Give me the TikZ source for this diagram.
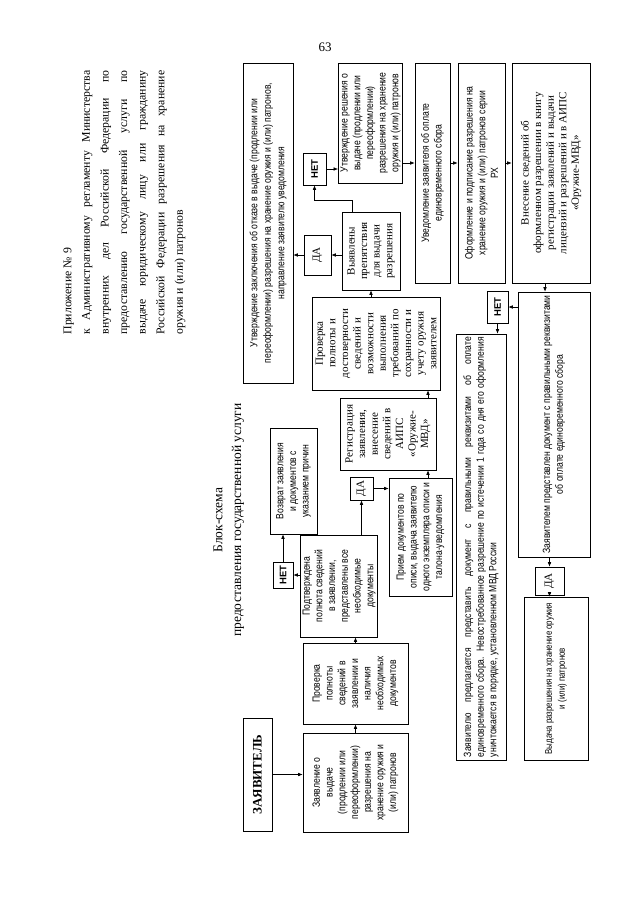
\documentclass[tikz,border=0pt]{standalone}
\usepackage{fontspec}
\setmainfont{Liberation Serif}
\newfontfamily\uzkij[FakeStretch=0.82]{Liberation Sans}
\newfontfamily\rubl{Liberation Sans}
\usetikzlibrary{arrows.meta}

\begin{document}
\begin{tikzpicture}[
  x=1pt,
  y=-1pt,
  blok/.style={draw, line width=0.6pt, rotate=90, align=center, inner sep=2pt,
    font=\uzkij\fontsize{10.5}{12.7}\selectfont},
  blokserif/.style={blok, font=\fontsize{11}{12.6}\selectfont},
  razmer/.style 2 args={minimum width=#1, minimum height=#2},
  otvet/.style={draw, line width=0.6pt, rotate=90, inner sep=1pt},
  net/.style={otvet, font=\rubl\bfseries\fontsize{9.5}{11}\selectfont},
  da/.style={otvet, font=\fontsize{11}{12}\selectfont},
  strelka/.style={line width=0.6pt, -{Latex[length=4.5pt,width=3.6pt]}}
]
  \fill[white] (0,0) rectangle (640,905);
  \useasboundingbox (0,0) rectangle (640,905);

  \node[font=\fontsize{13}{15}\selectfont] (nomer) at (325,47) {63};
  \node[rotate=90, anchor=north west, text width=264pt, align=justify,
    font=\fontsize{11.8}{18.6}\selectfont] (prilozhenie) at (60,338)
    {Приложение №~9\\
     к Административному регламенту Министерства\linebreak
     внутренних дел Российской Федерации по\linebreak
     предоставлению государственной услуги по\linebreak
     выдаче юридическому лицу или гражданину\linebreak
     Российской Федерации разрешения на хранение\linebreak
     оружия и (или) патронов};
  \node[rotate=90, font=\fontsize{13.5}{17}\selectfont] (blokshema) at (218,520) {Блок-схема};
  \node[rotate=90, font=\fontsize{13.5}{17}\selectfont] (zagolovok) at (238,520) {предоставления государственной услуги};

  % priem zayavleniya
  \node[blok, font=\bfseries\fontsize{13}{15}\selectfont, razmer={113}{29}] (zayavitel) at (257.5,774.5) {ЗАЯВИТЕЛЬ};
  \node[blok, razmer={99}{105}] (zayavlenie) at (355.5,782.5)
    {Заявление о\\выдаче\\(продлении или\\переоформлении)\\разрешения на\\хранение оружия и\\(или) патронов};
  \node[blok, razmer={81}{105}] (proverka) at (355.5,683.5)
    {Проверка\\полноты\\сведений в\\заявлении и\\наличия\\необходимых\\документов};
  \node[blok, razmer={102}{76}] (podtverzhdena) at (339,586)
    {Подтверждена\\полнота сведений\\в заявлении,\\представлены все\\необходимые\\документы};
  \node[net, razmer={26}{20}] (net1) at (283,575) {НЕТ};
  \node[blok, razmer={106}{47}] (vozvrat) at (293.5,481)
    {Возврат заявления\\и документов с\\указанием причин};
  \node[da, razmer={23}{23}] (da1) at (361.5,488.5) {ДА};
  \node[blok, razmer={118}{63}] (priem) at (420.5,537)
    {Прием документов по\\описи, выдача заявителю\\одного экземпляра описи и\\талона-уведомления};
  \node[blokserif, razmer={72}{96}] (registraciya) at (388,434)
    {Регистрация\\заявления,\\внесение\\сведений в\\АИПС\\«Оружие-\\МВД»};

  % proverka svedenij
  \node[blokserif, razmer={93}{128}] (dostovernost) at (376,343.5)
    {Проверка\\полноты и\\достоверности\\сведений и\\возможности\\выполнения\\требований по\\сохранности и\\учету оружия\\заявителем};
  \node[blokserif, razmer={78}{58}] (vyyavleny) at (371,251)
    {Выявлены\\препятствия\\для выдачи\\разрешения};
  \node[da, razmer={40}{27}] (da2) at (317.5,255) {ДА};
  \node[net, razmer={32}{23}] (net2) at (314.5,169) {НЕТ};
  \node[blok, font=\uzkij\fontsize{10.5}{13.5}\selectfont, razmer={320}{50}] (otkaz) at (268,223)
    {Утверждение заключения об отказе в выдаче (продлении или\\переоформлении) разрешения на хранение оружия и (или) патронов,\\направление заявителю уведомления};
  \node[blok, razmer={120}{59}] (reshenie) at (370.5,123)
    {Утверждение решения о\\выдаче (продлении или\\переоформлении)\\разрешения на хранение\\оружия и (или) патронов};

  % oformlenie razresheniya
  \node[blok, razmer={220}{35}] (uvedomlenie) at (432.5,173)
    {Уведомление заявителя об оплате\\единовременного сбора};
  \node[blok, razmer={220}{47}] (oformlenie) at (481.5,173)
    {Оформление и подписание разрешения на\\хранение оружия и (или) патронов серии\\РХ};
  \node[blokserif, razmer={220}{78}] (vnesenie) at (551,173)
    {Внесение сведений об\\оформленном разрешении в книгу\\регистрации заявлений и выдачи\\лицензий и разрешений и в АИПС\\«Оружие-МВД»};
  \node[blok, razmer={265}{72}] (oplata) at (554,424.5)
    {Заявителем представлен документ с правильными реквизитами\\об оплате единовременного сбора};
  \node[net, razmer={32}{21}] (net3) at (497.5,307) {НЕТ};
  \node[blok, align=justify, text width=420pt, inner xsep=3pt, razmer={426}{50}] (predlozhenie) at (481,547)
    {Заявителю предлагается представить документ с правильными реквизитами об оплате\linebreak
     единовременного сбора. Невостребованное разрешение по истечении 1 года со дня его оформления\linebreak
     уничтожается в порядке, установленном МВД России};
  \node[da, razmer={28}{29}] (da3) at (549.5,581) {ДА};
  \node[blok, font=\uzkij\fontsize{9.6}{13}\selectfont, razmer={163}{64}] (vydacha) at (556,678.5)
    {Выдача разрешения на хранение оружия\\и (или) патронов};

  % strelki
  \draw[strelka] (zayavitel.south) -- (zayavitel.south -| zayavlenie.north);
  \draw[strelka] (zayavlenie.east) -- (proverka.west);
  \draw[strelka] (proverka.east) -- (proverka.east |- podtverzhdena.west);
  \draw[strelka] (podtverzhdena.north |- net1.south) -- (net1.south);
  \draw[strelka] (net1.east) -- (net1.east |- vozvrat.west);
  \draw[strelka] (da1.west |- podtverzhdena.east) -- (da1.west);
  \draw[strelka] (da1.south) -- (da1.south -| priem.north);
  \draw[strelka] (428,0 |- priem.east) -- (428,0 |- registraciya.west);
  \draw[strelka] (428,0 |- registraciya.east) -- (428,0 |- dostovernost.west);
  \draw[strelka] (vyyavleny.west |- dostovernost.east) -- (vyyavleny.west);
  \draw[strelka] (vyyavleny.north |- da2.south) -- (da2.south);
  \draw[strelka] (da2.north) -- (da2.north -| otkaz.south);
  \draw[strelka] (352,0 |- vyyavleny.east) -- (352,200) -| (net2.west);
  \draw[strelka] (net2.south) -- (net2.south -| reshenie.north);
  \draw[strelka] (reshenie.south |- 0,163) -- (uvedomlenie.north |- 0,163);
  \draw[strelka] (uvedomlenie.south |- 0,163) -- (oformlenie.north |- 0,163);
  \draw[strelka] (oformlenie.south |- 0,163) -- (vnesenie.north |- 0,163);
  \draw[strelka] (545,0 |- vnesenie.west) -- (545,0 |- oplata.east);
  \draw[strelka] (oplata.north |- net3.south) -- (net3.south);
  \draw[strelka] (net3.west) -- (net3.west |- predlozhenie.east);
  \draw[strelka] (da3.east |- oplata.west) -- (da3.east);
  \draw[strelka] (da3.west) -- (da3.west |- vydacha.east);
\end{tikzpicture}
\end{document}
